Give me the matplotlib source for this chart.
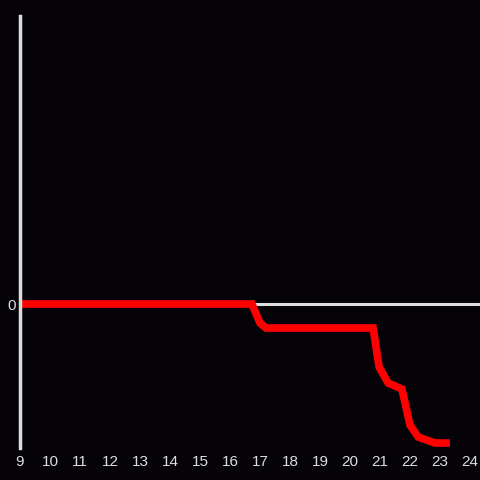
import matplotlib
matplotlib.use("Agg")
import matplotlib.pyplot as plt

# data
hours = [9.0, 16.73, 17.0, 17.2, 20.77, 20.97, 21.27, 21.73, 22.0, 22.27, 22.83, 23.2]
values = [0, 0, -19, -24, -24, -63, -79, -85, -121, -133, -139, -139]
x_ticks = list(range(9, 25))

bg = "#050307"
fg = "#dddddd"

plt.rcParams['font.family'] = ['Liberation Sans', 'DejaVu Sans']

fig = plt.figure(figsize=(4.8, 4.8), dpi=100, facecolor=bg)
ax = fig.add_axes([20 / 480, 32 / 480, 460 / 480, 432 / 480], facecolor=bg)

ax.axhline(0, color=fg, lw=2.2, zorder=1)
ax.plot(hours, values, color="#ff0000", lw=5.5, solid_joinstyle="miter", zorder=2)

ax.set_xlim(9, 24.333)
ax.set_ylim(-144, 288)
ax.set_xticks(x_ticks)
ax.set_yticks([0])

for s in ["top", "right", "bottom"]:
    ax.spines[s].set_visible(False)
ax.spines["left"].set_color(fg)
ax.spines["left"].set_linewidth(2.5)

ax.tick_params(axis="both", length=0, colors=fg, labelsize=11)
ax.tick_params(axis="x", pad=5)
ax.tick_params(axis="y", pad=3)

fig.savefig("out.png", dpi=100, facecolor=bg)
